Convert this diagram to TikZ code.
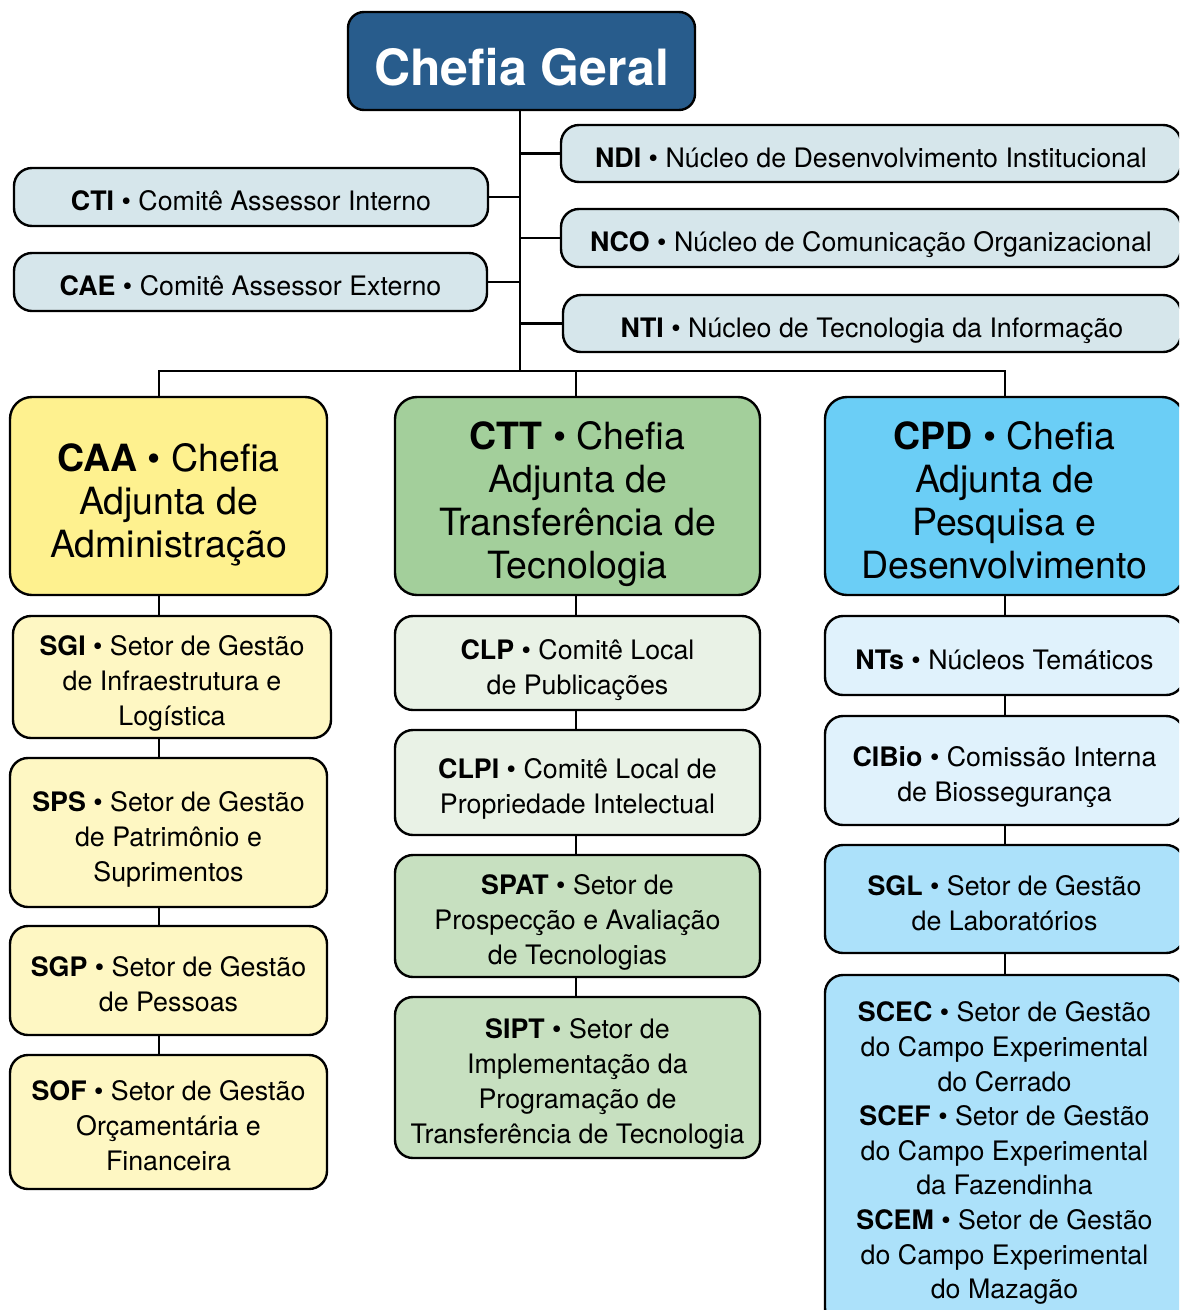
\documentclass[tikz,border=0pt]{standalone}
\usepackage{fontspec}
\setmainfont{TeX Gyre Heros}
\definecolor{cgblue}{HTML}{285C8C}
\definecolor{commit}{HTML}{D6E6EB}
\definecolor{caay}{HTML}{FEF18F}
\definecolor{ly}{HTML}{FEF7C3}
\definecolor{cttg}{HTML}{A3CF9B}
\definecolor{vlg}{HTML}{E9F2E6}
\definecolor{lg}{HTML}{C7E0C0}
\definecolor{cpdb}{HTML}{6BCEF6}
\definecolor{vlb}{HTML}{E0F2FC}
\definecolor{lb}{HTML}{ACE1FA}
\tikzset{
  box/.style={draw=black, line width=2.4pt, rounded corners=18pt, inner sep=0pt},
  smallbox/.style={box},
  bigbox/.style={box, rounded corners=22pt},
  cgbox/.style={box, rounded corners=16pt},
  smalltext/.style={align=center, inner sep=0pt, text depth=0pt, yshift=-3.8pt, font=\fontsize{26.8}{35}\selectfont},
  bigtext/.style={align=center, inner sep=0pt, text depth=0pt, yshift=-4.3pt, font=\fontsize{37.5}{43}\selectfont},
  cgtext/.style={align=center, inner sep=0pt, text depth=0pt, yshift=-6pt, text=white, font=\fontsize{50}{56}\selectfont\bfseries},
  conn/.style={draw=black, line width=2.2pt}
}
% name, kind, fill, centre, width, height, text
\newcommand\orgbox[7]{%
  \node[#2box, fill=#3, minimum width=#5, minimum height=#6] (#1) at (#4) {};
  \node[#2text] (#1t) at (#1.center) {#7};}
\begin{document}
\begin{tikzpicture}[x=1pt,y=-1pt]
\useasboundingbox (0,0) rectangle (1179,1310);
\clip (0,0) rectangle (1179,1310);
\fill[white] (0,0) rectangle (1179,1310);

\coordinate (t1) at (520,371);
\coordinate (b1) at (159,371);
\coordinate (b2) at (576,371);
\coordinate (b3) at (1005,371);

% Chefia Geral
\orgbox{CG}{cg}{cgblue}{521.5,61}{347pt}{98pt}{Chefia Geral}

% committees
\orgbox{CTI}{small}{commit}{251,197}{474pt}{58pt}{\textbf{CTI} • Comitê Assessor Interno}
\orgbox{CAE}{small}{commit}{250.5,282}{473pt}{58pt}{\textbf{CAE} • Comitê Assessor Externo}
\orgbox{NDI}{small}{commit}{871,153.5}{620pt}{57pt}{\textbf{NDI} • Núcleo de Desenvolvimento Institucional}
\orgbox{NCO}{small}{commit}{871,238}{620pt}{58pt}{\textbf{NCO} • Núcleo de Comunicação Organizacional}
\orgbox{NTI}{small}{commit}{872,323.5}{618pt}{57pt}{\textbf{NTI} • Núcleo de Tecnologia da Informação}

% adjunct chiefs
\orgbox{CAA}{big}{caay}{168.5,496}{317pt}{198pt}{\textbf{CAA} • Chefia\\Adjunta de\\Administração}
\orgbox{CTT}{big}{cttg}{577.5,496}{365pt}{198pt}{\textbf{CTT} • Chefia\\Adjunta de\\Transferência de\\Tecnologia}
\orgbox{CPD}{big}{cpdb}{1004.5,496}{359pt}{198pt}{\textbf{CPD} • Chefia\\Adjunta de\\Pesquisa e\\Desenvolvimento}

% column 1
\orgbox{SGI}{small}{ly}{172,677}{318pt}{122pt}{\textbf{SGI} • Setor de Gestão\\de Infraestrutura e\\Logística}
\orgbox{SPS}{small}{ly}{168.5,832.5}{317pt}{149pt}{\textbf{SPS} • Setor de Gestão\\de Patrimônio e\\Suprimentos}
\orgbox{SGP}{small}{ly}{168.5,980.5}{317pt}{109pt}{\textbf{SGP} • Setor de Gestão\\de Pessoas}
\orgbox{SOF}{small}{ly}{168.5,1122}{317pt}{134pt}{\textbf{SOF} • Setor de Gestão\\Orçamentária e\\Financeira}

% column 2
\orgbox{CLP}{small}{vlg}{577.5,663}{365pt}{94pt}{\textbf{CLP} • Comitê Local\\de Publicações}
\orgbox{CLPI}{small}{vlg}{577.5,782.5}{365pt}{105pt}{\textbf{CLPI} • Comitê Local de\\Propriedade Intelectual}
\orgbox{SPAT}{small}{lg}{577.5,916}{365pt}{122pt}{\textbf{SPAT} • Setor de\\Prospecção e Avaliação\\de Tecnologias}
\orgbox{SIPT}{small}{lg}{577.5,1077.5}{365pt}{161pt}{\textbf{SIPT} • Setor de\\Implementação da\\Programação de\\Transferência de Tecnologia}

% column 3
\orgbox{NTs}{small}{vlb}{1004.5,655.5}{359pt}{79pt}{\textbf{NTs} • Núcleos Temáticos}
\orgbox{CIBio}{small}{vlb}{1004.5,770.5}{359pt}{109pt}{\textbf{CIBio} • Comissão Interna\\de Biossegurança}
\orgbox{SGL}{small}{lb}{1004.5,899}{359pt}{108pt}{\textbf{SGL} • Setor de Gestão\\de Laboratórios}
\node[smallbox, fill=lb, minimum width=359pt, minimum height=351pt] (SCE) at (1004.5,1150.5) {};
\node[smalltext, font=\fontsize{26.8}{34.6}\selectfont, yshift=4pt] (SCEt) at (SCE.center) {\textbf{SCEC} • Setor de Gestão\\do Campo Experimental\\do Cerrado\\\textbf{SCEF} • Setor de Gestão\\do Campo Experimental\\da Fazendinha\\\textbf{SCEM} • Setor de Gestão\\do Campo Experimental\\do Mazagão};

% connectors
\draw[conn] (CG.south -| t1) -- (t1);
\draw[conn] (CTI.east) -- (CTI.east -| t1);
\draw[conn] (CAE.east) -- (CAE.east -| t1);
\draw[conn] (NDI.west) -- (NDI.west -| t1);
\draw[conn] (NCO.west) -- (NCO.west -| t1);
\draw[conn] (NTI.west) -- (NTI.west -| t1);
\draw[conn] (b1 |- CAA.north) -- (b1) -- (b3) -- (b3 |- CPD.north);
\draw[conn] (b2) -- (b2 |- CTT.north);

\draw[conn] (CAA.south -| b1) -- (SGI.north -| b1);
\draw[conn] (SGI.south -| b1) -- (SPS.north -| b1);
\draw[conn] (SPS.south -| b1) -- (SGP.north -| b1);
\draw[conn] (SGP.south -| b1) -- (SOF.north -| b1);

\draw[conn] (CTT.south -| b2) -- (CLP.north -| b2);
\draw[conn] (CLP.south -| b2) -- (CLPI.north -| b2);
\draw[conn] (CLPI.south -| b2) -- (SPAT.north -| b2);
\draw[conn] (SPAT.south -| b2) -- (SIPT.north -| b2);

\draw[conn] (CPD.south -| b3) -- (NTs.north -| b3);
\draw[conn] (NTs.south -| b3) -- (CIBio.north -| b3);
\draw[conn] (CIBio.south -| b3) -- (SGL.north -| b3);
\draw[conn] (SGL.south -| b3) -- (SCE.north -| b3);
\end{tikzpicture}
\end{document}
